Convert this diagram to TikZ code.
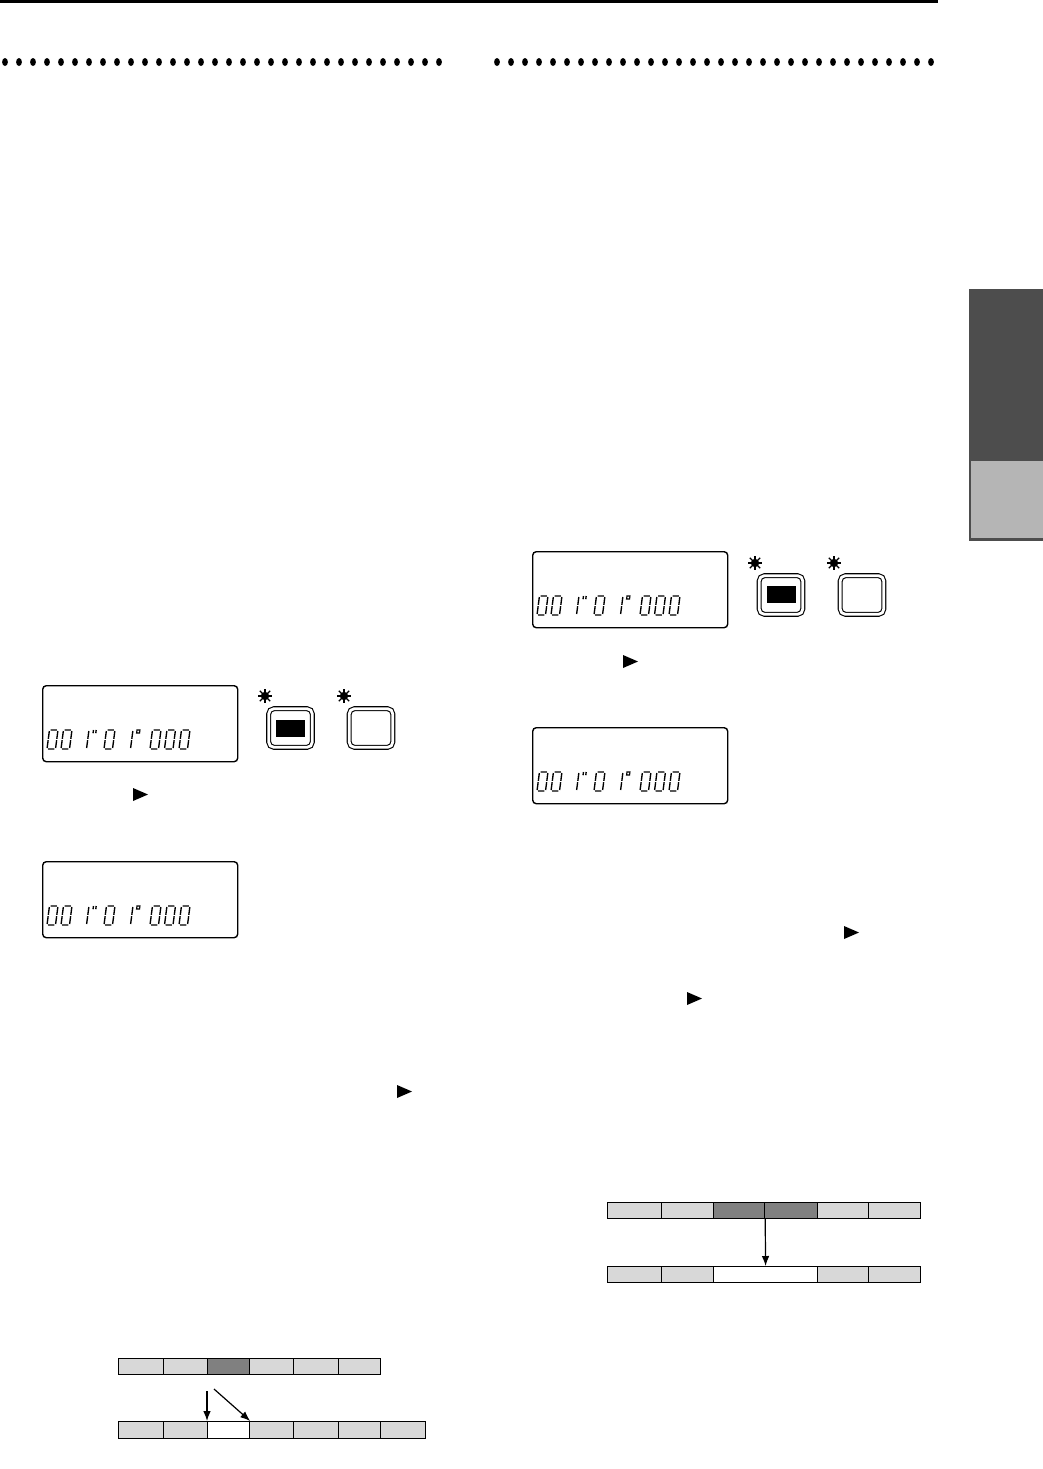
\documentclass[tikz,border=0pt]{standalone}
\usetikzlibrary{arrows.meta}
\definecolor{tabdark}{HTML}{4D4D4D}
\definecolor{tablight}{HTML}{B5B5B5}
\definecolor{cellgray}{HTML}{D8D8D8}
\definecolor{celldark}{HTML}{808080}
\tikzset{
  lcd/.style={draw, line width=0.7pt, rounded corners=1.8pt, inner sep=0pt,
    minimum width=97.5pt, minimum height=38pt, anchor=north west},
  seg/.style={line width=0.68pt},
  btn/.style={draw, double, line width=0.55pt, double distance=1.4pt,
    rounded corners=2.6pt, minimum width=21.8pt, minimum height=19.3pt, inner sep=0pt},
  btnled/.style={fill=black, minimum width=14.5pt, minimum height=8.5pt, inner sep=0pt},
  cellbox/.style={draw, line width=0.6pt, inner sep=0pt, anchor=north west},
  arr/.style={line width=0.6pt, -{Latex[length=5pt,width=3.8pt]}},
  rays/.style={line width=0.6pt},
  playtri/.style={fill=black}
}
% seven-segment glyphs, local origin = bottom-left of the glyph
\newcommand\dzero[1]{\begin{scope}[shift={(#1,64)}, xslant=0.13]
  \draw[seg] (1.1,-19)--(7.4,-19) (8.5,-18)--(8.5,-10.2) (8.5,-8.8)--(8.5,-1)
    (7.4,0)--(1.1,0) (0,-1)--(0,-8.8) (0,-10.2)--(0,-18);
  \end{scope}}
\newcommand\done[1]{\begin{scope}[shift={(#1,64)}, xslant=0.13]
  \draw[seg] (0,-18)--(0,-10.2) (0,-8.8)--(0,-1);
  \end{scope}}
\newcommand\dquote[1]{\begin{scope}[shift={(#1,64)}, xslant=0.13]
  \draw[seg] (0,-19)--(0,-15.8) (2.7,-19)--(2.7,-15.8);
  \end{scope}}
\newcommand\ddeg[1]{\begin{scope}[shift={(#1,64)}, xslant=0.13]
  \draw[line width=0.55pt] (0,-19) rectangle (3,-16);
  \end{scope}}
\newcommand\lcdreadout[3]{%
  \node[lcd] (#1) at (#2,#3) {};
  \begin{scope}[shift={(#2,#3)}]
    \dzero{5}\dzero{19}\done{44.5}\dquote{49}\dzero{62}\done{88.5}\ddeg{92.5}%
    \dzero{108}\dzero{122.5}\dzero{137}
  \end{scope}}
\newcommand\ledstar[2]{%
  \fill (#1,#2) circle [radius=4.2];
  \foreach \a in {0,45,...,315} {\draw[rays] (#1,#2) ++(\a:3.8) -- ++(\a:3.6);}}
\newcommand\play[2]{\fill[playtri] (#1,#2) -- ++(0,13) -- ++(15,-6.5) -- cycle;}
\newcommand\barcell[6]{\node[cellbox, fill=#6, minimum width={(#3-#2)*0.5pt},
  minimum height={(#5-#4)*0.5pt}] (#1) at (#2,#4) {};}
\begin{document}
\begin{tikzpicture}[x=0.5pt, y=-0.5pt]
\fill[white] (0,0) rectangle (1043,1469);
\useasboundingbox (0,0) rectangle (1043,1469);
% top rule
\fill (0,0) rectangle (938,3);
% dotted heading rows
\foreach \i in {0,...,31} {
  \fill (5+\i*14, 62) ellipse [x radius=2.9, y radius=4];
  \fill (497+\i*14, 62) ellipse [x radius=2.9, y radius=4];
}
% side tab
\fill[tabdark] (969,289) rectangle (1043,541);
\fill[tablight] (971,461) rectangle (1043,538);

% ---------- left column ----------
\lcdreadout{lcdA}{42}{685}
\ledstar{265}{696}
\ledstar{344}{696}
\node[btn] (btnA1) at (290.5,728) {};
\node[btnled] (ledA1) at (290.5,728.5) {};
\node[btn] (btnA2) at (371,728) {};
\play{133}{788}
\lcdreadout{lcdB}{42}{861}
\play{397}{1085}

% left bar diagram
\barcell{lt1}{118}{163}{1358}{1374}{cellgray}
\barcell{lt2}{163}{207}{1358}{1374}{cellgray}
\barcell{lt3}{207}{249}{1358}{1374}{celldark}
\barcell{lt4}{249}{293}{1358}{1374}{cellgray}
\barcell{lt5}{293}{338}{1358}{1374}{cellgray}
\barcell{lt6}{338}{380}{1358}{1374}{cellgray}
\barcell{lb1}{118}{163}{1421}{1438}{cellgray}
\barcell{lb2}{163}{207}{1421}{1438}{cellgray}
\barcell{lb3}{207}{249}{1421}{1438}{white}
\barcell{lb4}{249}{293}{1421}{1438}{cellgray}
\barcell{lb5}{293}{338}{1421}{1438}{cellgray}
\barcell{lb6}{338}{380}{1421}{1438}{cellgray}
\barcell{lb7}{380}{425}{1421}{1438}{cellgray}
\coordinate (la1) at (207,1391);
\coordinate (la2) at (214,1389);
\draw[arr] (la1) -- (lb3.north west);
\draw[arr] (la2) -- (lb3.north east);

% ---------- right column ----------
\lcdreadout{lcdC}{532}{551}
\ledstar{755}{563}
\ledstar{834}{563}
\node[btn] (btnC1) at (781,595) {};
\node[btnled] (ledC1) at (781.5,594.5) {};
\node[btn] (btnC2) at (862,595) {};
\play{623}{655}
\lcdreadout{lcdD}{532}{727}
\play{844}{926}
\play{687}{992}

% right bar diagram
\barcell{rt1}{607}{661}{1202}{1218}{cellgray}
\barcell{rt2}{661}{713}{1202}{1218}{cellgray}
\barcell{rt3}{713}{764}{1202}{1218}{celldark}
\barcell{rt4}{764}{817}{1202}{1218}{celldark}
\barcell{rt5}{817}{868}{1202}{1218}{cellgray}
\barcell{rt6}{868}{920}{1202}{1218}{cellgray}
\barcell{rb1}{607}{661}{1266}{1282}{cellgray}
\barcell{rb2}{661}{713}{1266}{1282}{cellgray}
\barcell{rb3}{713}{817}{1266}{1282}{white}
\barcell{rb4}{817}{868}{1266}{1282}{cellgray}
\barcell{rb5}{868}{920}{1266}{1282}{cellgray}
\draw[arr] (rt3.south east) -- (rb3.north);
\end{tikzpicture}
\end{document}
